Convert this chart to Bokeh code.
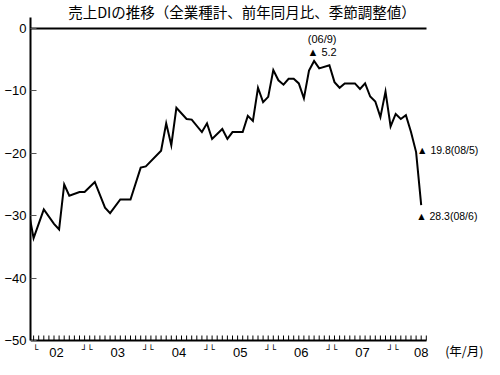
from bokeh.plotting import figure
from bokeh.models import Range1d, FixedTicker, Label, LinearAxis
from bokeh.embed import file_html
from bokeh.resources import INLINE

# ---------------- data ----------------
title_text = "売上DIの推移（全業種計、前年同月比、季節調整値）"
periods = ["02/01", "02/02", "02/04", "02/06", "02/07", "02/08", "02/09", "02/11", "02/12",
           "03/02", "03/04", "03/05", "03/07", "03/09", "03/11", "03/12",
           "04/03", "04/04", "04/05", "04/06", "04/08", "04/09", "04/11", "04/12",
           "05/01", "05/03", "05/04", "05/05", "05/07", "05/08", "05/09", "05/10", "05/11", "05/12",
           "06/01", "06/02", "06/03", "06/04", "06/05", "06/06", "06/07", "06/08", "06/09", "06/10", "06/12",
           "07/01", "07/02", "07/03", "07/05", "07/06", "07/07", "07/08", "07/09", "07/10", "07/11", "07/12",
           "08/01", "08/02", "08/03", "08/04", "08/05", "08/06"]
sales_di = [-29.2, -33.6, -29.0, -31.3, -32.2, -25.0, -26.8, -26.2, -26.2,
            -24.6, -28.7, -29.6, -27.4, -27.4, -22.3, -22.1,
            -19.6, -15.2, -18.7, -12.7, -14.5, -14.6, -16.6, -15.2,
            -17.7, -16.1, -17.7, -16.6, -16.6, -14.0, -14.8, -9.5, -11.8, -10.95,
            -6.65, -8.3, -9.0, -8.05, -8.05, -8.8, -11.2, -6.75, -5.2, -6.4, -5.9,
            -8.6, -9.5, -8.8, -8.8, -9.7, -8.8, -10.9, -11.7, -14.2, -10.1, -15.7,
            -13.7, -14.5, -13.9, -16.6, -19.8, -28.3]
year_labels = ["02", "03", "04", "05", "06", "07", "08"]
y_ticks = [0, -10, -20, -30, -40, -50]
unit_label = "(年/月)"
annotated = ["06/09", "08/05", "08/06"]


def month_index(p):
    yy, mm = p.split("/")
    return (int(yy) - 2) * 12 + int(mm) - 1


xs = [month_index(p) for p in periods]
n_months = xs[-1] + 1
month_ticks = list(range(1, n_months + 1))

# ---------------- layout (canvas pixels) ----------------
W, H = 484, 359
LB = 30             # left border holding the y tick labels
M0_PX = 28.0        # canvas x of month 0
PPX = 5.10          # pixels per month
ZERO_PY = 28.0      # canvas y of value 0
PPY = 6.24          # pixels per DI point
AXIS_END_M = 77.95  # x-axis ends just after the last month
AXIS_TOP_PY = 16.5  # y-axis line starts slightly above 0
TICK_LEN = 5        # monthly tick length, px

X0 = (LB - M0_PX) / PPX
X1 = (W - M0_PX) / PPX
Y1 = ZERO_PY / PPY
Y0 = -(H - ZERO_PY) / PPY
BASE = y_ticks[-1]


def xd(px):
    return (px - M0_PX) / PPX


def yd(py):
    return (ZERO_PY - py) / PPY


p = figure(frame_width=W - LB, frame_height=H,
           x_range=Range1d(X0, X1), y_range=Range1d(Y0, Y1),
           output_backend="svg", toolbar_location=None,
           min_border_left=LB, min_border_right=0,
           min_border_top=0, min_border_bottom=0)
p.outline_line_color = None
p.xgrid.visible = False
p.ygrid.visible = False
p.background_fill_color = "white"
p.border_fill_color = "white"

# y axis (left)
ya = p.yaxis[0]
ya.bounds = (BASE, yd(AXIS_TOP_PY))
ya.ticker = FixedTicker(ticks=y_ticks)
ya.major_label_overrides = {t: str(t).replace("-", "\u2212") for t in y_ticks}
ya.axis_line_width = 2
ya.axis_line_color = "black"
ya.major_tick_in = 6
ya.major_tick_out = 0
ya.major_tick_line_color = "#555555"
ya.minor_tick_line_color = None
ya.major_label_standoff = 4
ya.major_label_text_font = "Liberation Sans"
ya.major_label_text_font_size = "13px"
ya.major_label_text_color = "black"

# x axis line at -50 (labels and ticks drawn separately)
xa = p.xaxis[0]
xa.fixed_location = BASE
xa.bounds = (X0, AXIS_END_M)
xa.ticker = FixedTicker(ticks=[])
xa.axis_line_width = 2
xa.axis_line_color = "black"
xa.major_tick_in = 0
xa.major_tick_out = 0
xa.minor_tick_line_color = None

# zero line as an axis without ticks
za = LinearAxis(fixed_location=0, bounds=(X0, AXIS_END_M),
                ticker=FixedTicker(ticks=[]), axis_line_width=2,
                axis_line_color="black", major_tick_in=0, major_tick_out=0,
                minor_tick_in=0, minor_tick_out=0)
p.add_layout(za, "above")

# series
p.line(xs, sales_di, line_color="black", line_width=2, line_join="miter")

# monthly ticks pointing up from the x axis
p.segment(x0=month_ticks, y0=[BASE] * len(month_ticks),
          x1=month_ticks, y1=[BASE + TICK_LEN / PPY] * len(month_ticks),
          line_color="black", line_width=1, level="overlay")

# title
p.add_layout(Label(x=xd(241.5), y=yd(11), text=title_text, text_align="center",
                   text_baseline="middle", text_font="Noto Sans CJK JP",
                   text_font_size="14.5px", text_color="black"))

# year labels (centre of each year, last one at last month)
LAB_PY = 351.5
for i, lab in enumerate(year_labels):
    xpos = 12 * i + 5.5 if i < len(year_labels) - 1 else xs[-1]
    p.add_layout(Label(x=xpos, y=yd(LAB_PY), text=lab, text_align="center",
                       text_baseline="middle", text_font="Liberation Sans",
                       text_font_size="13px", text_color="black"))

# year brackets
BR_PY = 344
p.add_layout(Label(x=xd(32.5), y=yd(BR_PY), text="└", text_align="left",
                   text_baseline="top", text_font="DejaVu Sans Mono",
                   text_font_size="9px", text_color="black"))
for i in range(1, len(year_labels)):
    p.add_layout(Label(x=12 * i - 0.5, y=yd(BR_PY), text="┘└", text_align="center",
                       text_baseline="top", text_font="DejaVu Sans Mono",
                       text_font_size="9px", text_color="black"))

p.add_layout(Label(x=xd(483), y=yd(349.5), text=unit_label, text_align="right",
                   text_baseline="middle", text_font="Noto Sans CJK JP",
                   text_font_size="12.5px", text_color="black"))


# annotations
def tri(v):
    return "▲ %.1f" % abs(v)


pk = periods.index(annotated[0])
px_, py_ = xs[pk], sales_di[pk]
yy, mm = annotated[0].split("/")
p.add_layout(Label(x=px_ + 8 / PPX, y=py_ + 22 / PPY, text="(%s/%d)" % (yy, int(mm)),
                   text_align="center", text_baseline="middle", text_font="Liberation Sans",
                   text_font_size="11px", text_color="black"))
p.add_layout(Label(x=px_ + 8 / PPX, y=py_ + 9 / PPY, text=tri(py_),
                   text_align="center", text_baseline="middle", text_font="Liberation Sans",
                   text_font_size="11px", text_color="black"))

for key, dxp, dyp in [(annotated[1], 1, 2), (annotated[2], -5, -11)]:
    k = periods.index(key)
    yy, mm = key.split("/")
    p.add_layout(Label(x=xs[k] + dxp / PPX, y=sales_di[k] + dyp / PPY,
                       text="%s(%s/%d)" % (tri(sales_di[k]), yy, int(mm)),
                       text_align="left", text_baseline="middle", text_font="Liberation Sans",
                       text_font_size="10.5px", text_color="black"))

open("out.html", "w").write(file_html(p, INLINE))
